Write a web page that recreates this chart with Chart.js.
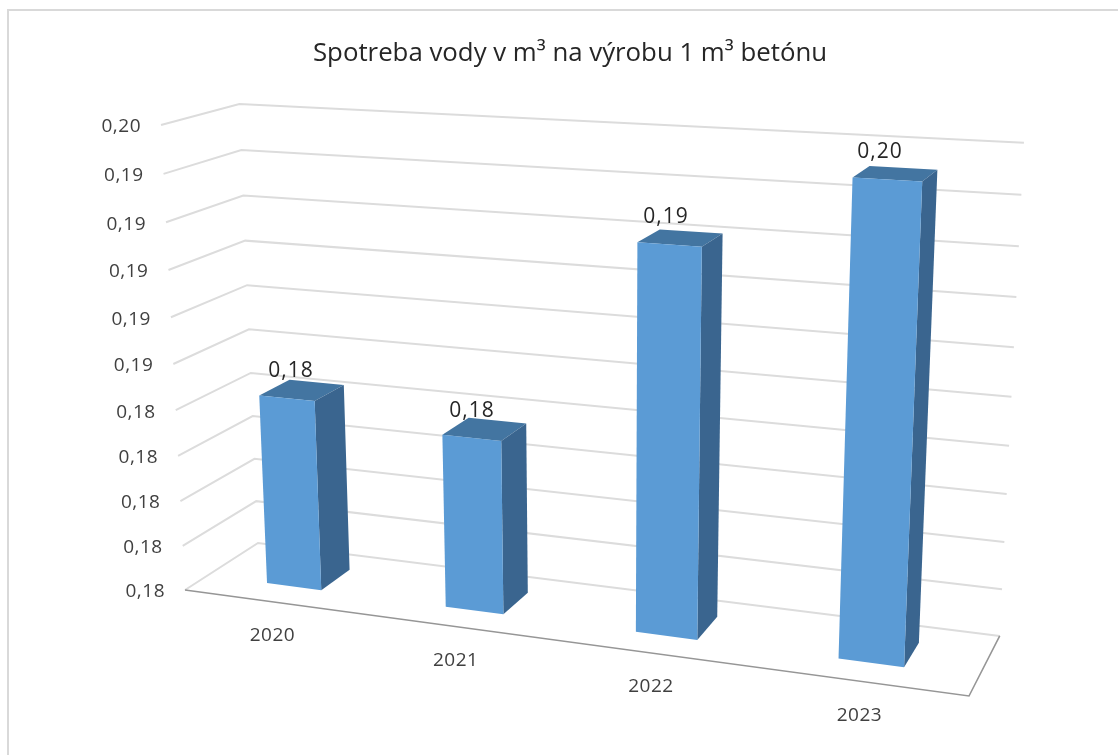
<!DOCTYPE html>
<html>
<head>
<meta charset="utf-8">
<style>
html,body{margin:0;padding:0;background:#fff;overflow:hidden}
#frame{position:absolute;left:7px;top:9px;width:1200px;height:900px;border-left:2px solid #d9d9d9;border-top:2px solid #d9d9d9}
#wrap{position:absolute;left:0;top:0;width:1118px;height:755px;filter:blur(0.45px)}
canvas{display:block}
</style>
<script src="https://cdn.jsdelivr.net/npm/chart.js@4"></script>
</head>
<body>
<div id="frame"></div>
<div id="wrap"><canvas id="c" width="1118" height="755"></canvas></div>
<script>
const categories = ['2020', '2021', '2022', '2023'];
const seriesValues = [0.1844, 0.1835, 0.1921, 0.1951];
const valueLabels = ['0,18', '0,18', '0,19', '0,20'];
const tickLabels = ['0,18','0,18','0,18','0,18','0,18','0,19','0,19','0,19','0,19','0,19','0,20'];
const titleText = 'Spotreba vody v m³ na výrobu 1 m³ betónu';
const axisMin = 0.176, axisMax = 0.196, axisStep = 0.002;

/* Perspective camera: maps the normalised box (u across, v up, w into the picture) to the page */
const cam = {
  P0: [185, 590], PU: [969, 696], PV: [161, 125], PW: [258, 543],
  wU: 0.879, wV: 0.9458, wW: 1.062
};
const barFrontW = 0.3, barBackW = 0.72;

function project(u, v, w) {
  const {P0, PU, PV, PW, wU, wV, wW} = cam;
  const d = 1 + u * (wU - 1) + v * (wV - 1) + w * (wW - 1);
  const at = i => (P0[i] + u * (wU * PU[i] - P0[i]) + v * (wV * PV[i] - P0[i]) + w * (wW * PW[i] - P0[i])) / d;
  return [at(0), at(1)];
}
function poly(ctx, pts, fill) {
  ctx.beginPath();
  pts.forEach((p, i) => i ? ctx.lineTo(p[0], p[1]) : ctx.moveTo(p[0], p[1]));
  ctx.closePath();
  ctx.fillStyle = fill;
  ctx.fill();
}
function path(ctx, pts, stroke, width) {
  ctx.beginPath();
  pts.forEach((p, i) => i ? ctx.lineTo(p[0], p[1]) : ctx.moveTo(p[0], p[1]));
  ctx.strokeStyle = stroke;
  ctx.lineWidth = width;
  ctx.stroke();
}
let chart;
function normU(px) { const a = chart.chartArea; return (px - a.left) / (a.right - a.left); }
function normV(px) { const a = chart.chartArea; return (a.bottom - px) / (a.bottom - a.top); }

/* Bars: the library's bar element, positioned by its scales, is painted as a 3-D column */
Chart.BarElement.prototype.draw = function (ctx) {
  const uL = normU(this.x - this.width / 2), uR = normU(this.x + this.width / 2);
  const vT = normV(this.y), vB = normV(this.base);
  const f = barFrontW, b = barBackW;
  ctx.save();
  poly(ctx, [project(uL, vT, f), project(uR, vT, f), project(uR, vT, b), project(uL, vT, b)], '#4375a1');
  poly(ctx, [project(uR, vT, f), project(uR, vT, b), project(uR, vB, b), project(uR, vB, f)], '#3a658f');
  poly(ctx, [project(uL, vT, f), project(uR, vT, f), project(uR, vB, f), project(uL, vB, f)], '#5b9bd5');
  ctx.restore();
};

const box3d = {
  id: 'box3d',
  beforeInit(c) { chart = c; },
  beforeDatasetsDraw(c) {
    const ctx = c.ctx, y = c.scales.y, x = c.scales.x;
    ctx.save();
    y.ticks.forEach((t, i) => {
      const v = normV(y.getPixelForValue(t.value));
      path(ctx, [project(0, v, 0), project(0, v, 1), project(1, v, 1)], '#dcdcdc', 2);
    });
    path(ctx, [project(0, 0, 0), project(1, 0, 0), project(1, 0, 1)], '#969696', 1.6);
    ctx.font = '19px "Open Sans"';
    ctx.letterSpacing = '0.5px';
    ctx.fillStyle = '#404040';
    ctx.textBaseline = 'middle';
    ctx.textAlign = 'right';
    y.ticks.forEach((t, i) => {
      const v = normV(y.getPixelForValue(t.value));
      const p = project(0, v, 0);
      ctx.fillText(t.label, p[0] - 20, p[1] + 2);
    });
    ctx.textAlign = 'center';
    categories.forEach((cat, i) => {
      const p = project(normU(x.getPixelForValue(i)), 0, 0);
      ctx.fillText(x.getLabelForValue(i), p[0], p[1] + 34);
    });
    ctx.restore();
  },
  afterDatasetsDraw(c) {
    const ctx = c.ctx, meta = c.getDatasetMeta(0);
    ctx.save();
    ctx.font = '21px "Open Sans"';
    ctx.letterSpacing = '1px';
    ctx.fillStyle = '#262626';
    ctx.textAlign = 'center';
    ctx.textBaseline = 'middle';
    meta.data.forEach((el, i) => {
      const u = normU(el.x);
      const p = project(u, normV(el.y), barFrontW);
      ctx.fillText(valueLabels[i], p[0] + 6 - 15 * u, p[1] - 27);
    });
    ctx.restore();
  }
};

new Chart(document.getElementById('c'), {
  type: 'bar',
  data: {
    labels: categories,
    datasets: [{
      data: seriesValues,
      base: axisMin,
      backgroundColor: '#5b9bd5',
      barPercentage: 0.31,
      categoryPercentage: 1,
      clip: false
    }]
  },
  plugins: [box3d],
  options: {
    responsive: false,
    animation: false,
    layout: {padding: {left: 22}},
    plugins: {
      legend: {display: false},
      tooltip: {enabled: false},
      title: {
        display: true,
        text: titleText,
        color: '#262626',
        font: {family: '"Open Sans"', size: 25.8, weight: 'normal'},
        padding: {top: 38, bottom: 10}
      }
    },
    scales: {
      x: {display: false},
      y: {
        display: false,
        min: axisMin,
        max: axisMax,
        ticks: {stepSize: axisStep, callback: (v, i) => tickLabels[i]}
      }
    }
  }
});
</script>
</body>
</html>
